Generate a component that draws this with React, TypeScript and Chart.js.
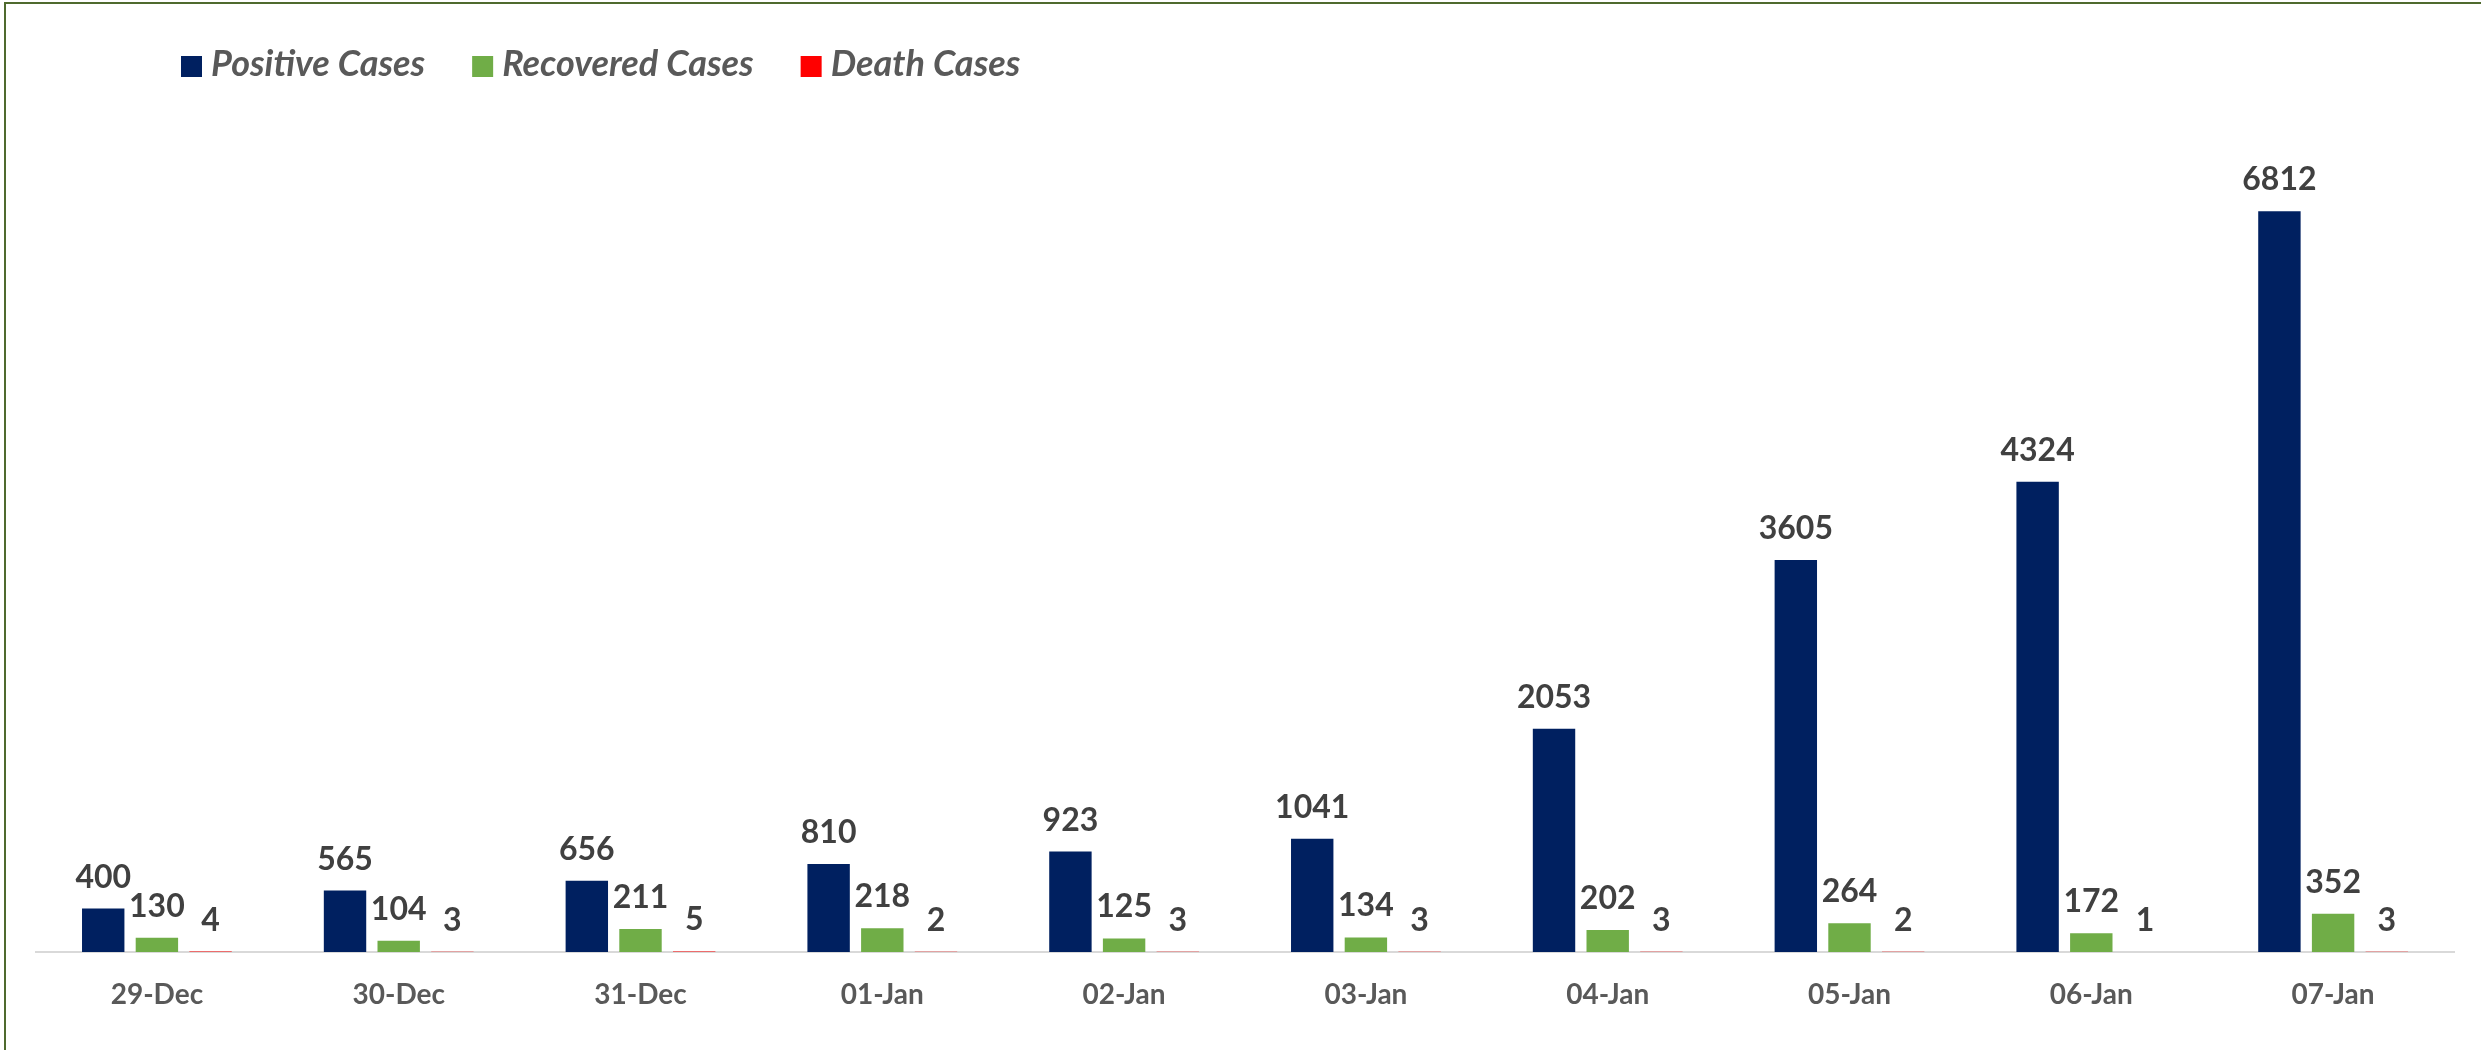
import React, { useEffect, useRef } from "react";
import { Chart, registerables } from "chart.js";

Chart.register(...registerables);

const categories = ["29-Dec", "30-Dec", "31-Dec", "01-Jan", "02-Jan", "03-Jan", "04-Jan", "05-Jan", "06-Jan", "07-Jan"];
const positiveCases = [400, 565, 656, 810, 923, 1041, 2053, 3605, 4324, 6812];
const recoveredCases = [130, 104, 211, 218, 125, 134, 202, 264, 172, 352];
const deathCases = [4, 3, 5, 2, 3, 3, 3, 2, 1, 3];
const seriesLabels = ["Positive Cases", "Recovered Cases", "Death Cases"];
const seriesColors = ["#002060", "#70AD47", "#FF0000"];

const W = 2481;
const H = 1050;

const dataLabelPlugin = {
  id: "dataLabels",
  afterDatasetsDraw(chart: any) {
    const ctx = chart.ctx;
    ctx.save();
    ctx.font = "bold 32px Lato";
    ctx.fillStyle = "#404040";
    ctx.textAlign = "center";
    ctx.textBaseline = "alphabetic";
    chart.data.datasets.forEach((ds: any, i: number) => {
      const meta = chart.getDatasetMeta(i);
      meta.data.forEach((el: any, j: number) => {
        ctx.fillText(String(ds.data[j]), el.x, el.y - 21);
      });
    });
    ctx.restore();
  },
};

const legendPlugin = {
  id: "customLegend",
  afterDraw(chart: any) {
    const ctx = chart.ctx;
    ctx.save();
    ctx.font = "italic bold 36px Lato";
    ctx.textBaseline = "alphabetic";
    ctx.textAlign = "left";
    let x = 181;
    chart.data.datasets.forEach((ds: any) => {
      ctx.fillStyle = ds.backgroundColor;
      ctx.fillRect(x, 56, 21, 21);
      x += 21 + 9;
      ctx.fillStyle = "#595959";
      ctx.fillText(ds.label, x, 76);
      x += ctx.measureText(ds.label).width + 47;
    });
    ctx.restore();
  },
};

const frameBorderPlugin = {
  id: "frameBorder",
  afterDraw(chart: any) {
    const ctx = chart.ctx;
    ctx.save();
    ctx.fillStyle = "#4F6A2E";
    ctx.fillRect(4, 2, W - 4, 2);
    ctx.fillRect(4, 2, 2, H - 2);
    ctx.restore();
  },
};

export default function App() {
  const canvasRef = useRef<HTMLCanvasElement | null>(null);

  useEffect(() => {
    document.body.style.margin = "0";
    document.body.style.background = "#ffffff";
    const canvas = canvasRef.current;
    if (!canvas) return;
    Chart.defaults.font.family = "Lato";
    const chart = new Chart(canvas, {
      type: "bar",
      data: {
        labels: categories,
        datasets: [
          { label: seriesLabels[0], data: positiveCases, backgroundColor: seriesColors[0] },
          { label: seriesLabels[1], data: recoveredCases, backgroundColor: seriesColors[1] },
          { label: seriesLabels[2], data: deathCases, backgroundColor: seriesColors[2] },
        ],
      },
      options: {
        animation: false,
        responsive: false,
        devicePixelRatio: 1,
        maintainAspectRatio: false,
        layout: { padding: { left: 36, right: 27, top: 82, bottom: 0 } },
        datasets: {
          bar: { categoryPercentage: 0.666, barPercentage: 0.79 },
        },
        plugins: {
          legend: { display: false },
          tooltip: { enabled: false },
          title: { display: false },
        },
        scales: {
          x: {
            grid: { display: false, drawTicks: false },
            border: { display: true, color: "#D9D9D9", width: 2 },
            ticks: {
              color: "#595959",
              font: { family: "Lato", size: 28, weight: "bold" },
              padding: 26,
              maxRotation: 0,
              autoSkip: false,
            },
            afterFit: (scale: any) => {
              scale.height = 98;
            },
          },
          y: {
            display: false,
            min: 0,
            max: 8000,
          },
        },
      },
      plugins: [dataLabelPlugin, legendPlugin, frameBorderPlugin],
    } as any);
    return () => chart.destroy();
  }, []);

  return (
    <div style={{ position: "relative", width: W, height: H, background: "#fff" }}>
      <canvas ref={canvasRef} width={W} height={H} style={{ width: W, height: H, display: "block" }} />
    </div>
  );
}
